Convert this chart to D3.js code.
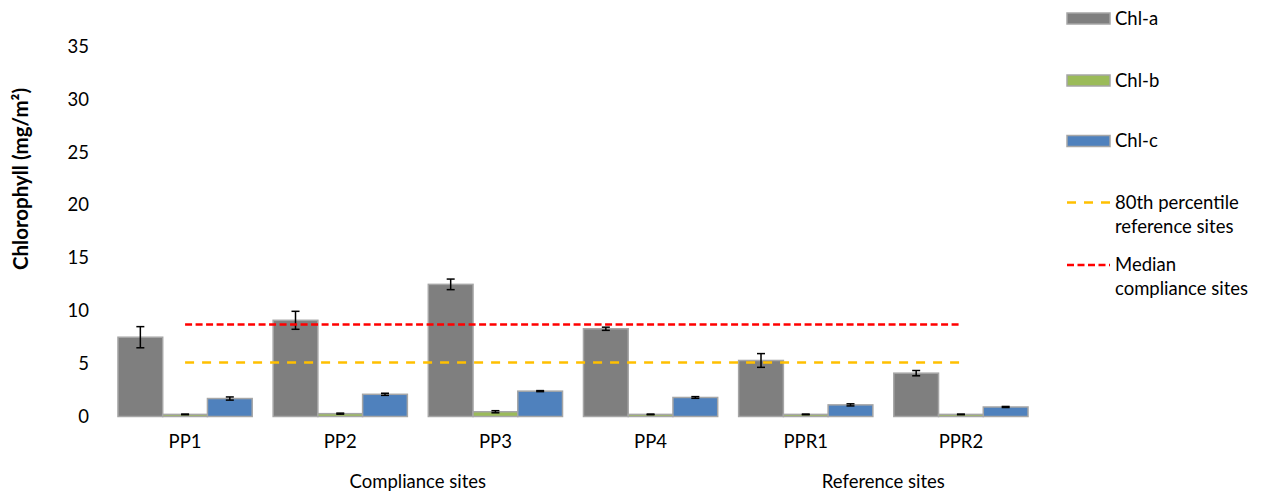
<!DOCTYPE html>
<html>
<head>
<meta charset="utf-8">
<script src="https://cdn.jsdelivr.net/npm/d3@7"></script>
<style>
  html, body { margin: 0; padding: 0; background: #fff; }
  svg text { font-family: Lato, "Open Sans", sans-serif; fill: #000; }
</style>
</head>
<body>
<svg id="chart" width="1261" height="494"></svg>
<script>
// Sampling sites and their groups
const sites = ["PP1", "PP2", "PP3", "PP4", "PPR1", "PPR2"];
const siteGroups = [
  { label: "Compliance sites", from: "PP1", to: "PP4" },
  { label: "Reference sites", from: "PPR1", to: "PPR2" }
];

// Pigment series (mg/m²) with standard errors
const seriesNames = ["Chl-a", "Chl-b", "Chl-c"];
const chlA = [7.5, 9.1, 12.5, 8.3, 5.3, 4.1];
const chlAErr = [1.0, 0.85, 0.5, 0.15, 0.65, 0.25];
const chlB = [0.2, 0.27, 0.45, 0.2, 0.2, 0.2];
const chlBErr = [0.03, 0.05, 0.1, 0.03, 0.03, 0.03];
const chlC = [1.7, 2.1, 2.4, 1.8, 1.1, 0.9];
const chlCErr = [0.15, 0.1, 0.05, 0.08, 0.1, 0.05];

// Reference lines
const pct80Reference = 5.1;
const medianCompliance = 8.7;

const yTicks = [0, 5, 10, 15, 20, 25, 30, 35];

const colors = { "Chl-a": "#7f7f7f", "Chl-b": "#9bbb59", "Chl-c": "#4f81bd" };
const barStroke = "#a6a6a6";
const fontSize = "18.5px";

const series = [
  { name: "Chl-a", values: chlA, err: chlAErr },
  { name: "Chl-b", values: chlB, err: chlBErr },
  { name: "Chl-c", values: chlC, err: chlCErr }
];

const svg = d3.select("#chart");

const x = d3.scaleBand()
  .domain(sites)
  .range([107.5, 1038.5])
  .paddingInner(0.135)
  .paddingOuter(0.0675);

const xSeries = d3.scaleBand()
  .domain(seriesNames)
  .range([0, x.bandwidth()])
  .padding(0);

const y = d3.scaleLinear().domain([0, 35]).range([416.5, 46.5]);

// Y axis labels (no axis line or ticks)
const yAxis = svg.append("g").attr("transform", "translate(89,0)")
  .call(d3.axisLeft(y).tickValues(yTicks).tickSize(0).tickPadding(0));
yAxis.select(".domain").remove();
yAxis.selectAll("text")
  .style("font-family", "Lato, 'Open Sans', sans-serif")
  .style("font-size", fontSize)
  .attr("fill", "#000");

// Y axis title
svg.append("text")
  .attr("transform", "translate(28,179) rotate(-90)")
  .attr("text-anchor", "middle")
  .style("font-size", "20.5px")
  .style("font-weight", "bold")
  .text("Chlorophyll (mg/m²)");

// Bars
const groups = svg.append("g").selectAll("g")
  .data(series)
  .join("g")
  .attr("fill", d => colors[d.name]);

groups.selectAll("rect")
  .data(d => d.values.map((v, i) => ({ site: sites[i], v, e: d.err[i], name: d.name })))
  .join("rect")
  .attr("x", d => x(d.site) + xSeries(d.name))
  .attr("y", d => y(d.v))
  .attr("width", xSeries.bandwidth())
  .attr("height", d => y(0) - y(d.v))
  .attr("stroke", barStroke)
  .attr("stroke-width", 1.5);

// Error bars
const errData = series.flatMap(s => s.values.map((v, i) => ({
  cx: x(sites[i]) + xSeries(s.name) + xSeries.bandwidth() / 2,
  v, e: s.err[i]
})));
const eb = svg.append("g").attr("stroke", "#000").attr("stroke-width", 1.5);
eb.selectAll("line.v").data(errData).join("line").attr("class", "v")
  .attr("x1", d => d.cx).attr("x2", d => d.cx)
  .attr("y1", d => y(d.v + d.e)).attr("y2", d => y(d.v - d.e));
eb.selectAll("line.t").data(errData).join("line").attr("class", "t")
  .attr("x1", d => d.cx - 4).attr("x2", d => d.cx + 4)
  .attr("y1", d => y(d.v + d.e)).attr("y2", d => y(d.v + d.e));
eb.selectAll("line.b").data(errData).join("line").attr("class", "b")
  .attr("x1", d => d.cx - 4).attr("x2", d => d.cx + 4)
  .attr("y1", d => y(d.v - d.e)).attr("y2", d => y(d.v - d.e));

// Reference lines spanning first to last site centres
const xStart = x(sites[0]) + x.bandwidth() / 2;
const xEnd = x(sites[sites.length - 1]) + x.bandwidth() / 2;
svg.append("line")
  .attr("x1", xStart).attr("x2", xEnd)
  .attr("y1", y(pct80Reference)).attr("y2", y(pct80Reference))
  .attr("stroke", "#ffc000").attr("stroke-width", 2.5)
  .attr("stroke-dasharray", "9,8");
svg.append("line")
  .attr("x1", xStart).attr("x2", xEnd)
  .attr("y1", y(medianCompliance)).attr("y2", y(medianCompliance))
  .attr("stroke", "#ff0000").attr("stroke-width", 2.5)
  .attr("stroke-dasharray", "7,3.5");

// X category labels
svg.append("g").selectAll("text")
  .data(sites)
  .join("text")
  .attr("x", d => x(d) + x.bandwidth() / 2)
  .attr("y", 448)
  .attr("text-anchor", "middle")
  .style("font-size", fontSize)
  .text(d => d);

// Group labels
svg.append("g").selectAll("text")
  .data(siteGroups)
  .join("text")
  .attr("x", d => ((x(d.from) + x(d.to)) / 2) + x.bandwidth() / 2)
  .attr("y", 488)
  .attr("text-anchor", "middle")
  .style("font-size", fontSize)
  .text(d => d.label);

// Legend
const legend = svg.append("g");
const legendBars = [
  { name: "Chl-a", y: 18.5 },
  { name: "Chl-b", y: 80.5 },
  { name: "Chl-c", y: 141 }
];
legendBars.forEach(d => {
  legend.append("rect")
    .attr("x", 1067).attr("y", d.y - 5.5)
    .attr("width", 43).attr("height", 11)
    .attr("fill", colors[d.name])
    .attr("stroke", barStroke).attr("stroke-width", 1.5);
  legend.append("text")
    .attr("x", 1115).attr("y", d.y).attr("dy", "0.35em")
    .style("font-size", fontSize)
    .text(d.name);
});
const legendLines = [
  { lines: ["80th percentile", "reference sites"], y: 202.5, color: "#ffc000", dash: "9,8" },
  { lines: ["Median", "compliance sites"], y: 265, color: "#ff0000", dash: "7,3.5" }
];
legendLines.forEach(d => {
  legend.append("line")
    .attr("x1", 1067).attr("x2", 1110)
    .attr("y1", d.y).attr("y2", d.y)
    .attr("stroke", d.color).attr("stroke-width", 2.5)
    .attr("stroke-dasharray", d.dash);
  d.lines.forEach((t, i) => {
    legend.append("text")
      .attr("x", 1115).attr("y", d.y + i * 24).attr("dy", "0.35em")
      .style("font-size", fontSize)
      .text(t);
  });
});
</script>
</body>
</html>
